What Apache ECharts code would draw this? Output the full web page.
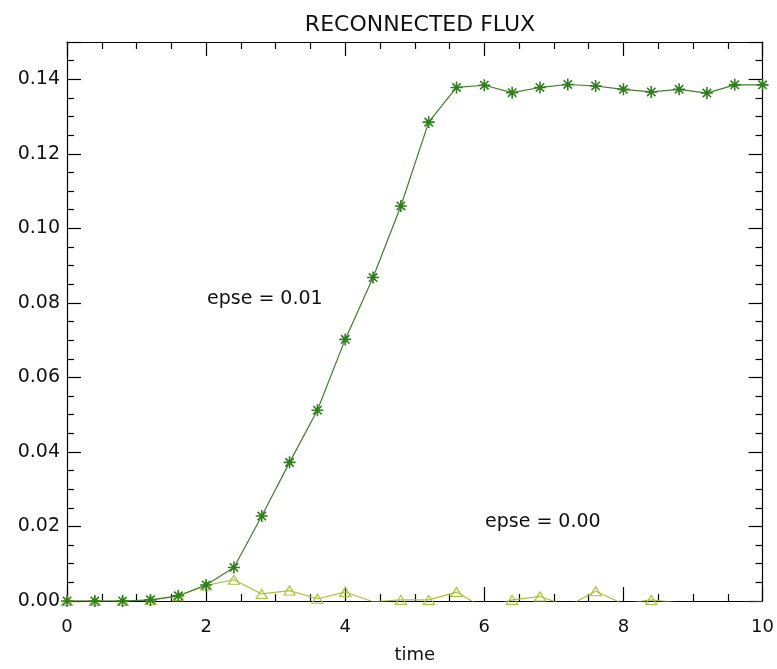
<!DOCTYPE html>
<html>
<head>
<meta charset="utf-8">
<script src="https://cdn.jsdelivr.net/npm/echarts@6/dist/echarts.min.js"></script>
<style>html,body{margin:0;padding:0;background:#fff}#c{width:777px;height:669px}</style>
</head>
<body>
<div id="c"></div>
<script>
var times = [0, 0.4, 0.8, 1.2, 1.6, 2.0, 2.4, 2.8, 3.2, 3.6, 4.0, 4.4, 4.8, 5.2, 5.6, 6.0, 6.4, 6.8, 7.2, 7.6, 8.0, 8.4, 8.8, 9.2, 9.6, 10.0];
var flux001 = [0, 0, 0, 0.0003, 0.0014, 0.0043, 0.0090, 0.0228, 0.0372, 0.0512, 0.0702, 0.0868, 0.1060, 0.1285, 0.1378, 0.1384, 0.1364, 0.1378, 0.1386, 0.1382, 0.1373, 0.1366, 0.1373, 0.1363, 0.1385, 0.1385];
var flux000 = [0, 0, 0, 0.0002, 0.0013, 0.0042, 0.0057, 0.0019, 0.0028, 0.0006, 0.0024, -0.0002, 0.0003, 0.0003, 0.0024, -0.0020, 0.0003, 0.0012, -0.0014, 0.0026, -0.0008, 0.0003, -0.0005, -0.0010, -0.0005, -0.0002];
var xTicks = [0, 2, 4, 6, 8, 10];
var yTicks = [0.00, 0.02, 0.04, 0.06, 0.08, 0.10, 0.12, 0.14];
var titleText = 'RECONNECTED FLUX';
var xName = 'time';
var notes = ['epse = 0.01', 'epse = 0.00'];

function pairs(xs, ys) { return xs.map(function (x, i) { return [x, ys[i]]; }); }

var FONT = 'DejaVu Sans';
var dark = '#2f7d1c';
var light = '#a9c43a';
var asterisk = 'path://M0,-10L0,10M-10,0L10,0M-7,-7L7,7M-7,7L7,-7';

function axisCommon() {
  return {
    axisLine: { show: true, onZero: false, lineStyle: { color: '#000', width: 1.2 } },
    axisTick: { show: true, inside: true, length: 14, lineStyle: { color: '#000', width: 1.2 } },
    minorTick: { show: true, splitNumber: 4, length: 7, lineStyle: { color: '#000', width: 1.2 } },
    splitLine: { show: false }
  };
}

var chart = echarts.init(document.getElementById('c'), null, { renderer: 'canvas' });
chart.setOption({
  backgroundColor: '#fff',
  animation: false,
  title: {
    text: titleText, left: 415, top: 9, textAlign: 'center',
    textStyle: { fontFamily: FONT, fontSize: 22, fontWeight: 'normal', color: '#111' }
  },
  grid: { left: 67, right: 14, top: 42, bottom: 66 },
  xAxis: [
    Object.assign({
      type: 'value', min: 0, max: 10, interval: 2, position: 'bottom',
      name: xName, nameLocation: 'middle', nameGap: 45,
      nameTextStyle: { fontFamily: FONT, fontSize: 18, color: '#111' },
      axisLabel: { fontFamily: FONT, fontSize: 18, color: '#111', margin: 17,
        customValues: xTicks, formatter: function (v) { return String(v); } }
    }, axisCommon()),
    Object.assign({
      type: 'value', min: 0, max: 10, interval: 2, position: 'top',
      axisLabel: { show: false }
    }, axisCommon())
  ],
  yAxis: [
    Object.assign({
      type: 'value', min: 0, max: 0.15, interval: 0.02, position: 'left',
      axisLabel: { fontFamily: FONT, fontSize: 19, color: '#111', margin: 7,
        customValues: yTicks, formatter: function (v) { return v.toFixed(2); } }
    }, axisCommon()),
    Object.assign({
      type: 'value', min: 0, max: 0.15, interval: 0.02, position: 'right',
      axisLabel: { show: false }
    }, axisCommon())
  ],
  series: [
    {
      type: 'line', name: notes[1], data: pairs(times, flux000),
      xAxisIndex: 0, yAxisIndex: 0, clip: true,
      symbol: 'triangle', symbolSize: [11, 9],
      lineStyle: { color: light, width: 1.2 },
      itemStyle: { color: 'rgba(255,255,255,0)', borderColor: light, borderWidth: 1.2 },
      z: 2
    },
    {
      type: 'line', name: notes[0], data: pairs(times, flux001),
      xAxisIndex: 0, yAxisIndex: 0, clip: true,
      symbol: asterisk, symbolSize: 12,
      lineStyle: { color: '#3f7f2c', width: 1.2 },
      itemStyle: { color: 'rgba(0,0,0,0)', borderColor: dark, borderWidth: 1.6 },
      z: 3
    }
  ],
  graphic: [
    { type: 'text', left: 207, top: 290, style: { text: notes[0], fontFamily: FONT, fontSize: 19, fill: '#111' } },
    { type: 'text', left: 485, top: 513, style: { text: notes[1], fontFamily: FONT, fontSize: 19, fill: '#111' } }
  ]
});
</script>
</body>
</html>
